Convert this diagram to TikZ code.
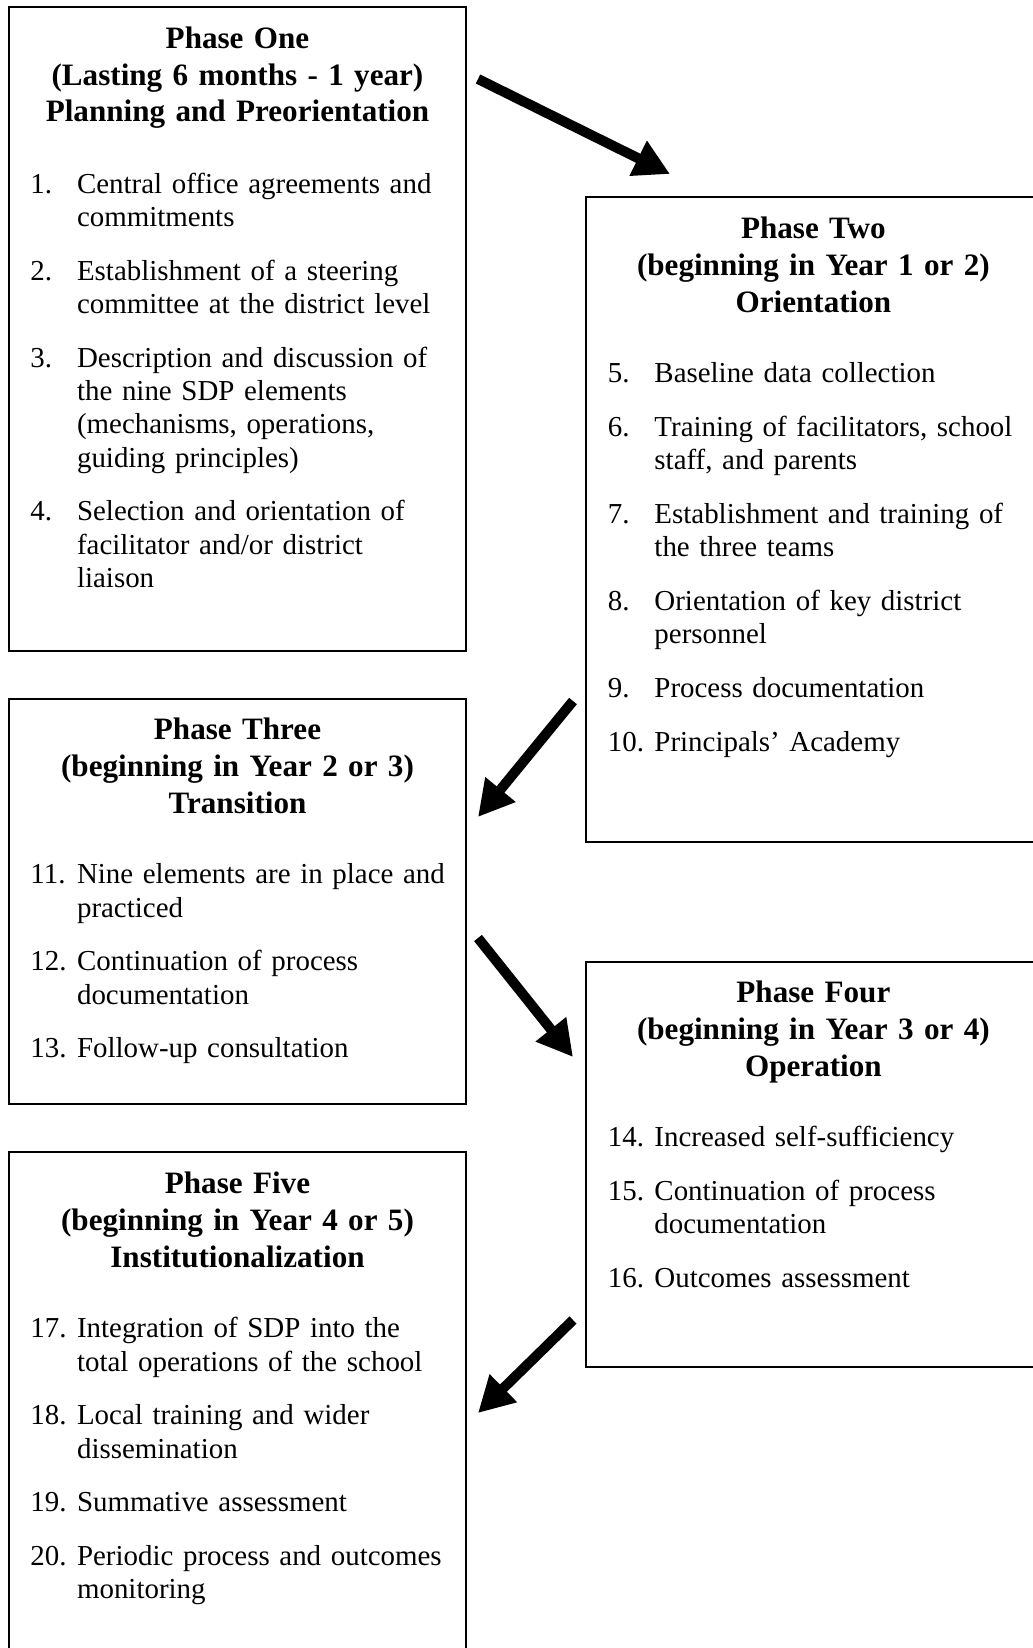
\documentclass[tikz,border=0pt]{standalone}
\usepackage{fontspec}
\setmainfont{Liberation Serif}
\usetikzlibrary{arrows.meta}

% body and heading type
\newcommand\bodyfont{\fontsize{11.8}{13.55}\selectfont}
\newcommand\headfont{\fontsize{12.7}{15.0}\selectfont\bfseries}
% numbered list helpers: number column and hanging indent
\newlength\numcol \setlength\numcol{19pt}
\newcommand\itemno[1]{\makebox[\numcol][l]{#1}}
\newcommand\cont{\hspace*{\numcol}}
\newcommand\gap{8.4pt}

\begin{document}
\begin{tikzpicture}[
  x=0.408pt, y=-0.408pt,
  phasebox/.style={draw=black, line width=0.8pt},
  heading/.style={anchor=base, align=center, text width=200pt, inner sep=0pt, font=\headfont},
  items/.style={anchor=base west, align=left, text width=185pt, inner sep=0pt, font=\bodyfont},
  flow/.style={line width=4.1pt, -{Triangle[length=14.5pt, width=15pt]}}
]
\useasboundingbox (0,0) rectangle (1032,1648);

% ---- phase boxes ----
\coordinate (p1nw) at (9,7);     \coordinate (p1se) at (466,651);
\coordinate (p2nw) at (586,197); \coordinate (p2se) at (1041,842);
\coordinate (p3nw) at (9,699);   \coordinate (p3se) at (466,1104);
\coordinate (p4nw) at (586,962); \coordinate (p4se) at (1041,1367);
\coordinate (p5nw) at (9,1152);  \coordinate (p5se) at (466,1700);
\foreach \b in {p1,p2,p3,p4,p5}
  \draw[phasebox] (\b nw) rectangle (\b se);

% ---- Phase One ----
\node[heading] (h1) at (237.5,48.3)
  {Phase One\\(Lasting 6 months - 1 year)\\Planning and Preorientation};
\node[items] (l1) at (30,193.4) {%
  \itemno{1.}Central office agreements and\\\cont commitments\\[\gap]
  \itemno{2.}Establishment of a steering\\\cont committee at the district level\\[\gap]
  \itemno{3.}Description and discussion of\\\cont the nine SDP elements\\\cont (mechanisms, operations,\\\cont guiding principles)\\[\gap]
  \itemno{4.}Selection and orientation of\\\cont facilitator and/or district\\\cont liaison};

% ---- Phase Two ----
\node[heading] (h2) at (813.4,238.5)
  {Phase Two\\(beginning in Year 1 or 2)\\Orientation};
\node[items] (l2) at (607.4,382.6) {%
  \itemno{5.}Baseline data collection\\[\gap]
  \itemno{6.}Training of facilitators, school\\\cont staff, and parents\\[\gap]
  \itemno{7.}Establishment and training of\\\cont the three teams\\[\gap]
  \itemno{8.}Orientation of key district\\\cont personnel\\[\gap]
  \itemno{9.}Process documentation\\[\gap]
  \itemno{10.}Principals’ Academy};

% ---- Phase Three ----
\node[heading] (h3) at (237.5,739.8)
  {Phase Three\\(beginning in Year 2 or 3)\\Transition};
\node[items] (l3) at (30,883.9) {%
  \itemno{11.}Nine elements are in place and\\\cont practiced\\[\gap]
  \itemno{12.}Continuation of process\\\cont documentation\\[\gap]
  \itemno{13.}Follow-up consultation};

% ---- Phase Four ----
\node[heading] (h4) at (813.4,1002.5)
  {Phase Four\\(beginning in Year 3 or 4)\\Operation};
\node[items] (l4) at (607.4,1146.6) {%
  \itemno{14.}Increased self-sufficiency\\[\gap]
  \itemno{15.}Continuation of process\\\cont documentation\\[\gap]
  \itemno{16.}Outcomes assessment};

% ---- Phase Five ----
\node[heading] (h5) at (237.5,1193.8)
  {Phase Five\\(beginning in Year 4 or 5)\\Institutionalization};
\node[items] (l5) at (30,1337.8) {%
  \itemno{17.}Integration of SDP into the\\\cont total operations of the school\\[\gap]
  \itemno{18.}Local training and wider\\\cont dissemination\\[\gap]
  \itemno{19.}Summative assessment\\[\gap]
  \itemno{20.}Periodic process and outcomes\\\cont monitoring};

% ---- arrows between phases ----
\coordinate (a1s) at (478,79);    \coordinate (a1e) at (670,174);
\coordinate (a2s) at (573,701);   \coordinate (a2e) at (478,817);
\coordinate (a3s) at (478,938);   \coordinate (a3e) at (573,1057);
\coordinate (a4s) at (573,1320);  \coordinate (a4e) at (478,1413);
\draw[flow] (a1s) -- (a1e);
\draw[flow] (a2s) -- (a2e);
\draw[flow] (a3s) -- (a3e);
\draw[flow] (a4s) -- (a4e);
\end{tikzpicture}
\end{document}
